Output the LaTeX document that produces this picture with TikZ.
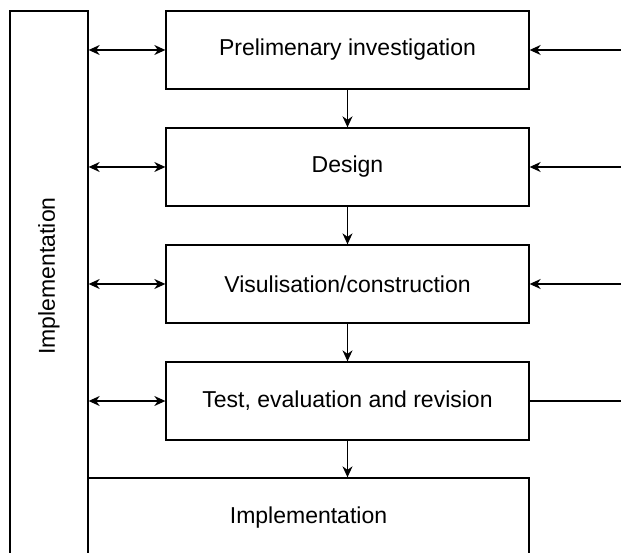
\documentclass[tikz,border=0pt]{standalone}
\usepackage{fontspec}
\setmainfont{Liberation Sans}
\usetikzlibrary{arrows.meta}

\begin{document}
\begin{tikzpicture}[x=1pt,y=-1pt,line width=1.3pt,
	txt/.style={font=\fontsize{23}{27}\selectfont},
	box/.style={draw,txt,minimum width=363pt,minimum height=78pt,inner sep=0pt},
	tip/.style={-{Stealth[length=11pt,width=10pt,inset=3.5pt]}},
	dtip/.style={{Stealth[length=11pt,width=10pt,inset=3.5pt]}-{Stealth[length=11pt,width=10pt,inset=3.5pt]}}]
	\useasboundingbox (0,0) rectangle (621,553);
	\clip (0,0) rectangle (621,553);
	\node[draw,minimum width=78pt,minimum height=547pt] at (49,284.5) (0) {};
	\node[txt,rotate=90] at (49,276) (0t) {Implementation};
	\node[box] at (347.5,50) (1) {Prelimenary investigation};
	\node[box] at (347.5,167) (2) {Design};
	\node[box] at (347.5,284) (3) {Visulisation/construction};
	\node[box] at (347.5,401) (4) {Test, evaluation and revision};
	\node[box,minimum width=441pt,minimum height=80pt] at (308.5,518) (5) {Implementation};
	\coordinate (r1) at (621,50);
	\coordinate (r2) at (621,167);
	\coordinate (r3) at (621,284);
	\coordinate (r4) at (621,401);
	\draw[tip] (1) to (2);
	\draw[tip] (2) to (3);
	\draw[tip] (3) to (4);
	\draw[tip] (4.south) to (4.south |- 5.north);
	\draw[dtip] (0.east |- 1) to (1);
	\draw[dtip] (0.east |- 2) to (2);
	\draw[dtip] (0.east |- 3) to (3);
	\draw[dtip] (0.east |- 4) to (4);
	\draw[tip] (r1) to (1);
	\draw[tip] (r2) to (2);
	\draw[tip] (r3) to (3);
	\draw (r4) to (4);
\end{tikzpicture}
\end{document}
